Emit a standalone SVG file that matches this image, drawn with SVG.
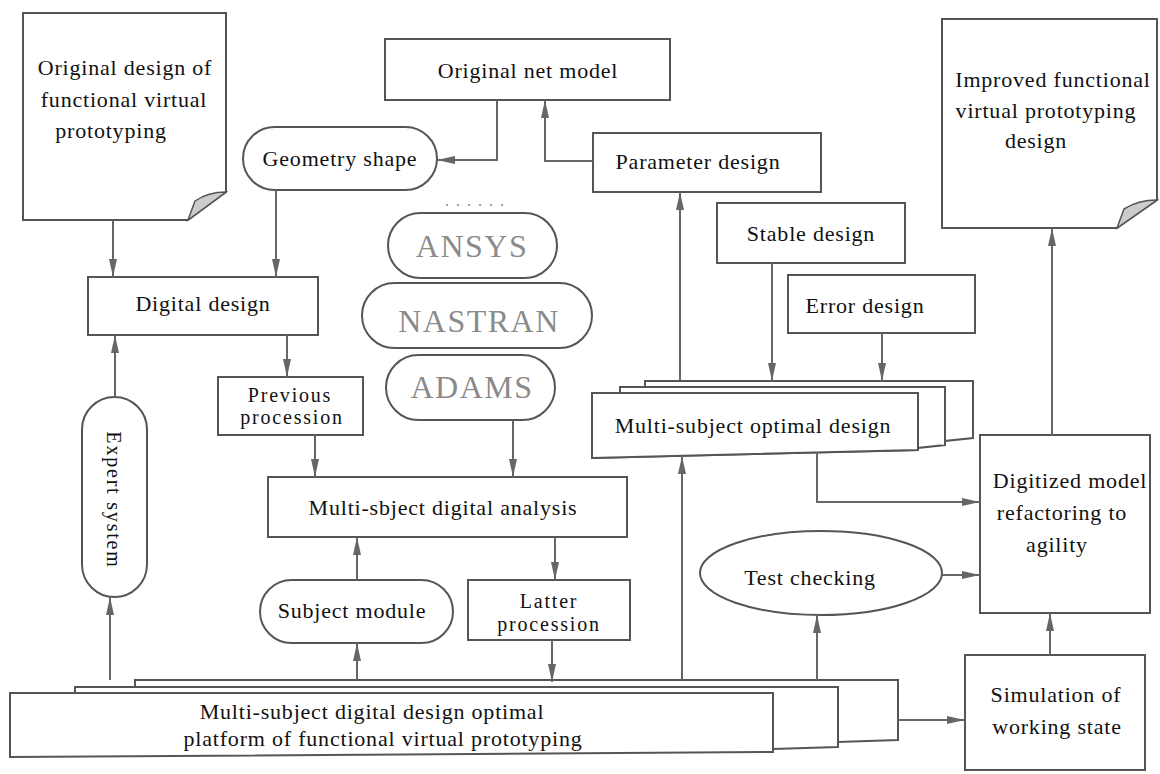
<svg xmlns="http://www.w3.org/2000/svg" width="1160" height="774" viewBox="0 0 1160 774">
<defs>
<marker id="ah" markerUnits="userSpaceOnUse" viewBox="0 0 18 8" markerWidth="18" markerHeight="8" refX="18" refY="4" orient="auto">
<path d="M0,0 L18,4 L0,8 Z" fill="#666"/>
</marker>
</defs>
<style>
.box{fill:#fff;stroke:#555;stroke-width:2}
.fold{fill:#ccc;stroke:#555;stroke-width:1.5}
.t{font-family:"Liberation Serif",serif;font-size:22px;fill:#111;text-anchor:middle;letter-spacing:0.8px}
.s{font-family:"Liberation Serif",serif;font-size:20px;fill:#111;text-anchor:middle;letter-spacing:1.8px}
.g{font-family:"Liberation Serif",serif;font-size:32px;fill:#8a8a8a;text-anchor:middle;letter-spacing:1.5px}
.c{fill:none;stroke:#666;stroke-width:2;marker-end:url(#ah)}
</style>
<rect width="1160" height="774" fill="#fff"/>

<g id="original-design">
<path class="box" d="M23,13 H226 V192 L188,220 H23 Z"/>
<path class="fold" d="M188,220 L195,201 Q208,192 226,192 Z"/>
<text class="t" x="125" y="75">Original design of</text>
<text class="t" x="124" y="107">functional virtual</text>
<text class="t" x="111" y="138">prototyping</text>
</g>

<g id="geometry-shape">
<rect class="box" x="243" y="127" width="194" height="63" rx="31.5"/>
<text class="t" x="340" y="166">Geometry shape</text>
</g>

<g id="original-net-model">
<rect class="box" x="385" y="39" width="285" height="61"/>
<text class="t" x="528" y="78">Original net model</text>
</g>

<g id="parameter-design">
<rect class="box" x="593" y="133" width="228" height="59"/>
<text class="t" x="698" y="169">Parameter design</text>
</g>

<g id="stable-design">
<rect class="box" x="717" y="203" width="188" height="60"/>
<text class="t" x="811" y="241">Stable design</text>
</g>

<g id="error-design">
<rect class="box" x="788" y="275" width="187" height="58"/>
<text class="t" x="865" y="313">Error design</text>
</g>

<g id="improved-design">
<path class="box" d="M942,19 H1157 V200 L1117,228 H942 Z"/>
<path class="fold" d="M1117,228 L1124,209 Q1138,200 1157,200 Z"/>
<text class="t" x="1053" y="87">Improved functional</text>
<text class="t" x="1046" y="118">virtual prototyping</text>
<text class="t" x="1036" y="148">design</text>
</g>

<g id="software">
<text class="g" x="478" y="206" style="font-size:16px;letter-spacing:7px">......</text>
<rect class="box" x="388" y="213" width="169" height="65" rx="32.5"/>
<text class="g" x="472" y="257">ANSYS</text>
<rect class="box" x="362" y="283" width="230" height="65" rx="32.5"/>
<text class="g" x="479" y="332">NASTRAN</text>
<rect class="box" x="386" y="355" width="169" height="65" rx="32.5"/>
<text class="g" x="472" y="398">ADAMS</text>
</g>

<g id="digital-design">
<rect class="box" x="88" y="277" width="230" height="58"/>
<text class="t" x="203" y="311">Digital design</text>
</g>

<g id="previous-procession">
<rect class="box" x="218" y="377" width="145" height="58"/>
<text class="s" x="290" y="402">Previous</text>
<text class="s" x="292" y="424">procession</text>
</g>

<g id="expert-system">
<rect class="box" x="82" y="397" width="65" height="200" rx="32.5"/>
<text class="s" transform="translate(107,500) rotate(90)" x="0" y="0">Expert system</text>
</g>

<g id="optimal-design">
<path class="box" d="M645,381 H973 V438 L945,441 V445 L918,448 V450 L592,458 V393 H620 V387 H645 Z"/>
<path class="box" d="M620,387 H945 V445"/>
<path class="box" d="M592,393 H918 V450 L592,458 Z"/>
<text class="t" x="753" y="433">Multi-subject optimal design</text>
</g>

<g id="digital-analysis">
<rect class="box" x="268" y="477" width="359" height="60"/>
<text class="t" x="443" y="515">Multi-sbject digital analysis</text>
</g>

<g id="digitized-model">
<rect class="box" x="980" y="435" width="170" height="178"/>
<text class="t" x="1070" y="488">Digitized model</text>
<text class="t" x="1062" y="520">refactoring to</text>
<text class="t" x="1057" y="552">agility</text>
</g>

<g id="subject-module">
<rect class="box" x="260" y="580" width="193" height="63" rx="31.5"/>
<text class="t" x="352" y="618">Subject module</text>
</g>

<g id="latter-procession">
<rect class="box" x="468" y="580" width="162" height="60"/>
<text class="s" x="549" y="608">Latter</text>
<text class="s" x="549" y="631">procession</text>
</g>

<g id="test-checking">
<ellipse class="box" cx="821" cy="573" rx="121" ry="42"/>
<text class="t" x="810" y="585">Test checking</text>
</g>

<g id="simulation">
<rect class="box" x="965" y="655" width="180" height="115"/>
<text class="t" x="1056" y="702">Simulation of</text>
<text class="t" x="1057" y="734">working state</text>
</g>

<g id="platform">
<path class="box" d="M135,680 H898 V740 L838,742 V687 H135 Z"/>
<path class="box" d="M75,687 H838 V747 L773,749 V693 H75 Z"/>
<path class="box" d="M10,693 H773 V752 L10,757 Z"/>
<text class="t" x="372" y="719">Multi-subject digital design optimal</text>
<text class="t" x="383" y="746">platform of functional virtual prototyping</text>
</g>

<g id="connectors">
<path class="c" d="M113,220 V277"/>
<path class="c" d="M276,190 V277"/>
<path class="c" d="M497,100 V160 H437"/>
<path class="c" d="M593,161 H545 V100"/>
<path class="c" d="M680,381 V192"/>
<path class="c" d="M772,263 V381"/>
<path class="c" d="M882,333 V381"/>
<path class="c" d="M1052,435 V228"/>
<path class="c" d="M287,335 V377"/>
<path class="c" d="M315,435 V477"/>
<path class="c" d="M513,420 V477"/>
<path class="c" d="M555,537 V580"/>
<path class="c" d="M115,397 V335"/>
<path class="c" d="M110,680 V597"/>
<path class="c" d="M357,580 V537"/>
<path class="c" d="M357,680 V643"/>
<path class="c" d="M552,640 V682"/>
<path class="c" d="M682,680 V456"/>
<path class="c" d="M817,452 V502 H980"/>
<path class="c" d="M942,575 H980"/>
<path class="c" d="M817,680 V615"/>
<path class="c" d="M898,720 H965"/>
<path class="c" d="M1050,655 V613"/>
</g>
</svg>
